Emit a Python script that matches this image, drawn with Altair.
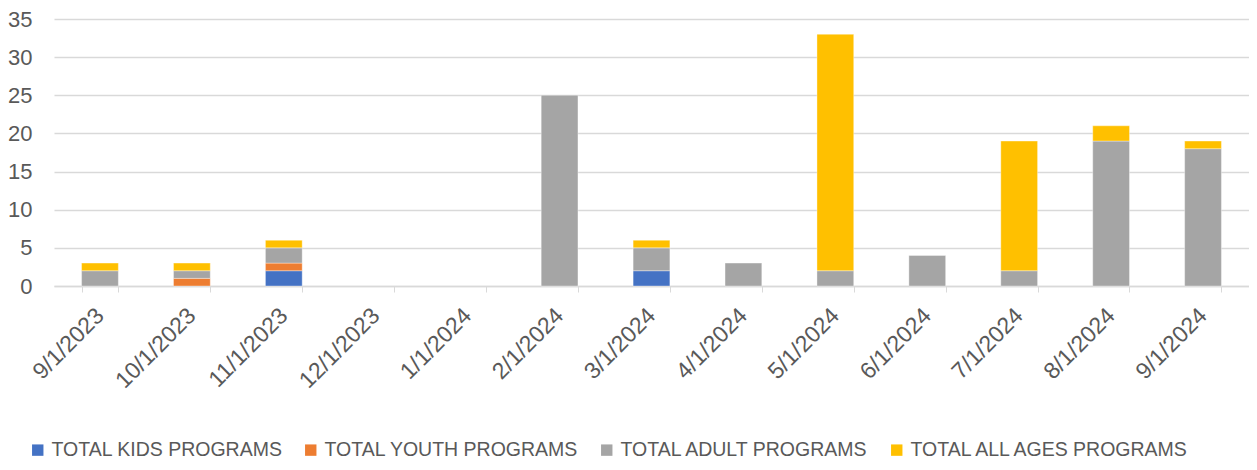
import altair as alt
import pandas as pd

months = ["9/1/2023", "10/1/2023", "11/1/2023", "12/1/2023", "1/1/2024", "2/1/2024",
          "3/1/2024", "4/1/2024", "5/1/2024", "6/1/2024", "7/1/2024", "8/1/2024", "9/1/2024"]
kids = [0, 0, 2, 0, 0, 0, 2, 0, 0, 0, 0, 0, 0]
youth = [0, 1, 1, 0, 0, 0, 0, 0, 0, 0, 0, 0, 0]
adult = [2, 1, 2, 0, 0, 25, 3, 3, 2, 4, 2, 19, 18]
all_ages = [1, 1, 1, 0, 0, 0, 1, 0, 31, 0, 17, 2, 1]

series = ["TOTAL KIDS PROGRAMS", "TOTAL YOUTH PROGRAMS", "TOTAL ADULT PROGRAMS", "TOTAL ALL AGES PROGRAMS"]
colors = ["#4472C4", "#ED7D31", "#A5A5A5", "#FFC000"]

rows = []
for si, (name, vals) in enumerate(zip(series, [kids, youth, adult, all_ages])):
    for m, v in zip(months, vals):
        if v > 0:
            rows.append({"month": m, "series": name, "value": v, "order": si})
df = pd.DataFrame(rows)

FONT = "Liberation Sans"

chart = alt.Chart(df).mark_bar(stroke="white", strokeWidth=0.6, strokeOpacity=0.6).encode(
    x=alt.X("month:N", sort=months, title=None,
            scale=alt.Scale(domain=months, paddingInner=0.6, paddingOuter=0.3),
            axis=alt.Axis(labelAngle=-45, labelFontSize=23, labelColor="#595959", labelFont=FONT,
                          domainColor="#D9D9D9", domainWidth=1.5, tickColor="#D9D9D9", tickSize=6,
                          tickBand="extent", labelPadding=12, labelOffset=-8, grid=False)),
    y=alt.Y("value:Q", title=None, stack="zero",
            scale=alt.Scale(domain=[0, 35], nice=False),
            axis=alt.Axis(values=[0, 5, 10, 15, 20, 25, 30, 35], labelFontSize=22, labelColor="#595959",
                          labelFont=FONT, domain=False, ticks=False, gridColor="#D9D9D9", gridWidth=1.5,
                          labelPadding=22)),
    color=alt.Color("series:N", sort=series,
                    scale=alt.Scale(domain=series, range=colors),
                    legend=alt.Legend(title=None, orient="none", legendX=-26, legendY=421,
                                      direction="horizontal", columns=4, symbolType="square",
                                      symbolSize=130, symbolStrokeWidth=0, labelFontSize=19.5,
                                      labelFont=FONT, labelColor="#595959", labelOffset=4,
                                      columnPadding=18, labelLimit=400)),
    order=alt.Order("order:Q", sort="ascending"),
).properties(
    width=1195, height=267,
    autosize=alt.AutoSizeParams(type="none"),
    padding={"left": 46, "top": 11, "right": 0, "bottom": 176},
).configure_view(stroke=None)

chart.save("out.html", embed_options={"renderer": "svg", "actions": False})
